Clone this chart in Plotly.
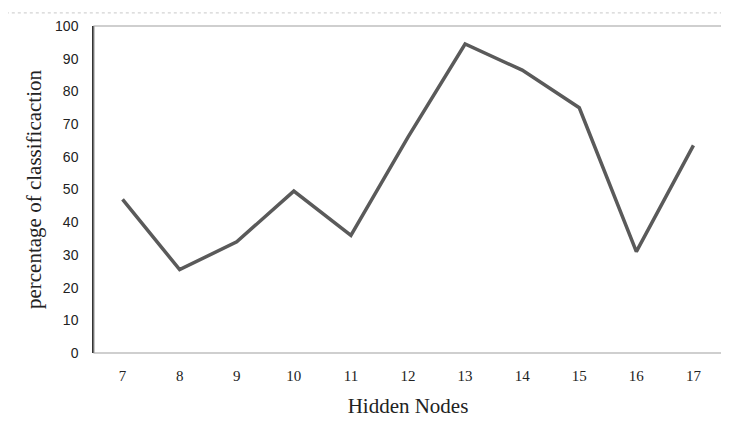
import plotly.graph_objects as go

hidden_nodes = ["7", "8", "9", "10", "11", "12", "13", "14", "15", "16", "17"]
percentage = [47, 25.5, 34, 49.5, 36, 66, 94.5, 86.5, 75, 31, 63.5]
y_ticks = [0, 10, 20, 30, 40, 50, 60, 70, 80, 90, 100]

fig = go.Figure()
fig.add_trace(go.Scatter(
    x=hidden_nodes, y=percentage, mode="lines",
    line=dict(color="#5a5a5a", width=3.5),
    showlegend=False,
))

# box outline (gray) around plot area
fig.add_shape(type="rect", xref="paper", yref="paper", x0=0, x1=1, y0=0, y1=1,
              line=dict(color="#a0a0a0", width=1.2), layer="above")
# dotted rule at top of page
fig.add_shape(type="line", xref="paper", yref="paper", x0=-0.15, x1=1.02,
              y0=1.04, y1=1.04, line=dict(color="#c8c8c8", width=1, dash="dot"))

fig.update_layout(
    width=721, height=420,
    margin=dict(l=86, r=7, t=18, b=75),
    paper_bgcolor="white", plot_bgcolor="white",
    xaxis=dict(
        type="category", range=[-0.5, 10.5],
        showgrid=False, zeroline=False, showline=False,
        ticks="", ticklabelstandoff=12,
        tickfont=dict(family="Liberation Serif", size=15, color="#222"),
        title=dict(text="Hidden Nodes", standoff=15,
                   font=dict(family="Liberation Serif", size=21, color="#222")),
    ),
    yaxis=dict(
        range=[0, 100], tickvals=y_ticks,
        showgrid=False, zeroline=False,
        showline=True, linecolor="#333", linewidth=1.5,
        ticks="", ticklabelstandoff=11,
        tickfont=dict(family="Liberation Sans", size=14, color="#222"),
        title=dict(text="percentage of classificaction", standoff=8,
                   font=dict(family="Liberation Serif", size=21, color="#222")),
    ),
)

fig.write_html("out.html")
